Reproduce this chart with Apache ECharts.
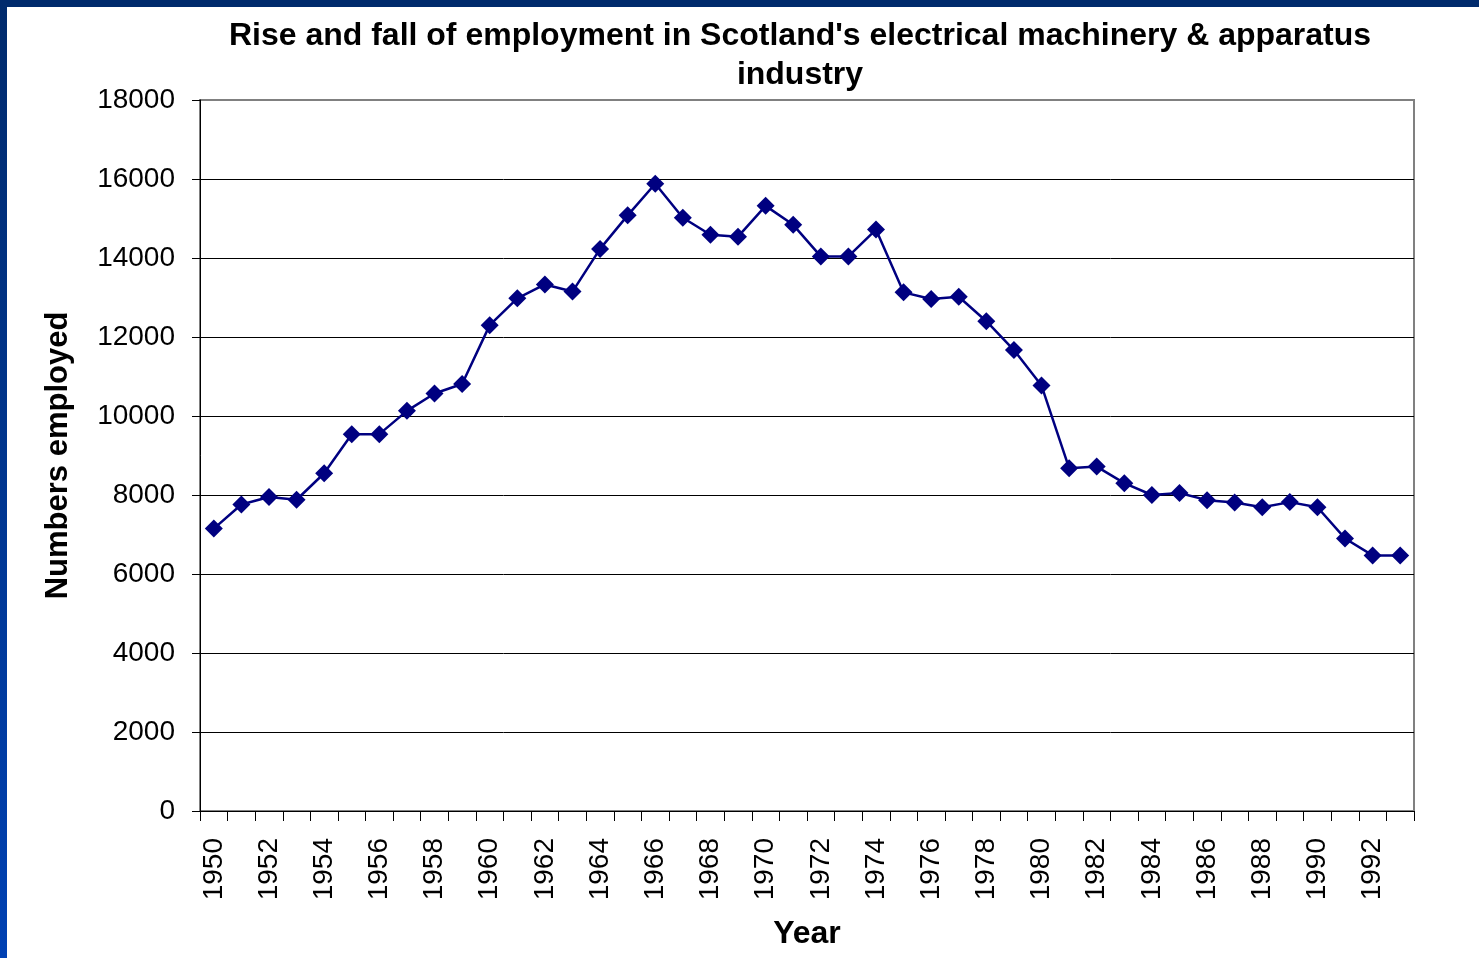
<!DOCTYPE html>
<html>
<head>
<meta charset="utf-8">
<title>Employment in Scotland's electrical machinery & apparatus industry</title>
<script src="https://cdn.jsdelivr.net/npm/echarts@6/dist/echarts.min.js"></script>
<style>
  html, body { margin: 0; padding: 0; background: #ffffff; }
  #chart { width: 1479px; height: 958px; }
</style>
</head>
<body>
<div id="chart"></div>
<script>
// Years on the category axis
const years = [];
for (let y = 1950; y <= 1993; y++) years.push(String(y));

// Numbers employed, one value per year
const employed = [
  7150, 7760, 7950, 7880, 8550, 9540, 9540, 10130, 10570, 10810,
  12300, 12980, 13330, 13150, 14230, 15080, 15880, 15020, 14590, 14540,
  15320, 14840, 14040, 14040, 14720, 13130, 12960, 13020, 12400, 11670,
  10770, 8680, 8720, 8300, 8000, 8050, 7870, 7810, 7690, 7820,
  7690, 6900, 6470, 6470
];

// Value axis range
const yMin = 0;
const yMax = 18000;
const yStep = 2000;

const chart = echarts.init(document.getElementById('chart'));
const FONT = '"Liberation Sans", Arial, sans-serif';

// split line colours: all black except the top one, which sits on the frame
const nLines = (yMax - yMin) / yStep + 1;
const splitColors = [];
for (let i = 0; i < nLines; i++) splitColors.push(i === nLines - 1 ? '#808080' : '#000000');

chart.setOption({
  backgroundColor: '#ffffff',
  animation: false,
  title: {
    text: "Rise and fall of employment in Scotland's electrical machinery & apparatus\nindustry",
    left: 795,
    top: 12,
    textAlign: 'center',
    textStyle: {
      fontFamily: FONT,
      fontSize: 32,
      fontWeight: 'bold',
      color: '#000000',
      lineHeight: 39
    }
  },
  graphic: [
    {
      type: 'rect',
      shape: { x: 0, y: 0, width: 1479, height: 7 },
      style: { fill: '#002a6c' },
      silent: true
    },
    {
      type: 'rect',
      shape: { x: 0, y: 0, width: 7, height: 958 },
      style: {
        fill: new echarts.graphic.LinearGradient(0, 0, 0, 1, [
          { offset: 0, color: '#002a6c' },
          { offset: 1, color: '#0041b3' }
        ])
      },
      silent: true
    }
  ],
  grid: {
    left: 200,
    top: 100,
    right: 65,
    bottom: 147,
    outerBoundsMode: 'none',
    containLabel: false,
    show: true,
    borderColor: '#808080',
    borderWidth: 2,
    backgroundColor: 'transparent'
  },
  xAxis: {
    type: 'category',
    data: years,
    boundaryGap: true,
    name: 'Year',
    nameLocation: 'middle',
    nameGap: 107,
    nameTextStyle: { fontFamily: FONT, fontSize: 32, fontWeight: 'bold', color: '#000000' },
    axisLine: { lineStyle: { color: '#000000', width: 1 } },
    axisTick: { show: true, interval: 0, length: 10, alignWithLabel: false, lineStyle: { color: '#000000' } },
    axisLabel: {
      interval: 1,
      rotate: 90,
      margin: 27,
      fontFamily: FONT,
      fontSize: 28,
      color: '#000000'
    },
    splitLine: { show: false }
  },
  yAxis: {
    type: 'value',
    min: yMin,
    max: yMax,
    interval: yStep,
    name: 'Numbers employed',
    nameLocation: 'middle',
    nameGap: 126,
    nameTextStyle: { fontFamily: FONT, fontSize: 31, fontWeight: 'bold', color: '#000000' },
    axisLine: { show: true, lineStyle: { color: '#000000', width: 1 } },
    axisTick: { show: true, length: 8, lineStyle: { color: '#000000' } },
    axisLabel: {
      margin: 25,
      fontFamily: FONT,
      fontSize: 28,
      color: '#000000',
      formatter: function (v) { return String(v); }
    },
    splitLine: { show: true, lineStyle: { color: splitColors, width: 1 } }
  },
  series: [
    {
      type: 'line',
      data: employed,
      symbol: 'diamond',
      symbolSize: 18,
      showAllSymbol: true,
      lineStyle: { color: '#000080', width: 2.5 },
      itemStyle: { color: '#000080' },
      z: 3
    }
  ]
});
</script>
</body>
</html>
